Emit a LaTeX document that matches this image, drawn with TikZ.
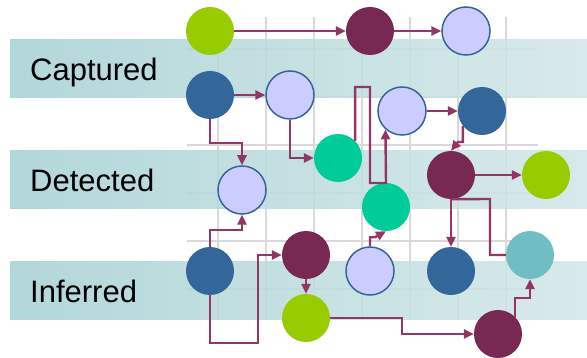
\documentclass[tikz,border=0pt]{standalone}
\usepackage{fontspec}
\setmainfont{Liberation Sans}
\usetikzlibrary{calc}
\usetikzlibrary{arrows.meta}

\definecolor{lime}{HTML}{99CC00}
\definecolor{navy}{HTML}{336699}
\definecolor{lilac}{HTML}{CCCCFF}
\definecolor{plum}{HTML}{772953}
\definecolor{mint}{HTML}{00CC99}
\definecolor{aqua}{HTML}{70BEC4}
\definecolor{wire}{HTML}{953565}
\definecolor{bandL}{HTML}{A8D2D4}
\definecolor{bandR}{HTML}{D3E6E8}

\begin{document}
\begin{tikzpicture} [x=1pt, y=-1pt,
  dot/.style={circle, minimum size=48pt, inner sep=0pt},
  link/.style={wire, line width=2.4pt, -{Triangle[length=10pt,width=9pt]}},
  band/.style={left color=bandL, right color=bandR, fill opacity=.88}]
\useasboundingbox (0,0) rectangle (587,358);

% grid
\foreach \x in {218,266,...,506}
\draw[black!15, line width=1.5pt] (\x,17) -- (\x,320);
\foreach \y in {49,97,...,289}
\draw[black!15, line width=1.5pt] (187,\y) -- (538,\y);

% bands
\foreach \y/\txt in {40/Captured, 151/Detected, 262/Inferred}
{
\shade[band] (10,\y) rectangle (587,\y+58);
\node[anchor=base west, font=\fontsize{31}{36}\selectfont, inner sep=0pt] at (30,\y+41) {\txt};
}

% nodes
\node[dot, fill=lime] (g1) at (210,31) {};
\node[dot, fill=navy] (b2) at (210,95) {};
\node[dot, fill=lilac, draw=navy, line width=1.5pt] (l3) at (290,95) {};
\node[dot, fill=plum] (p4) at (370,31) {};
\node[dot, fill=lilac, draw=navy, line width=1.5pt] (l5) at (466,31) {};
\node[dot, fill=lilac, draw=navy, line width=1.5pt] (l6) at (402,111) {};
\node[dot, fill=navy] (b7) at (482,111) {};
\node[dot, fill=mint] (t8) at (338,158) {};
\node[dot, fill=lilac, draw=navy, line width=1.5pt] (l9) at (242,190) {};
\node[dot, fill=plum] (p10) at (451,175) {};
\node[dot, fill=lime] (g11) at (546,175) {};
\node[dot, fill=mint] (t12) at (386,207) {};
\node[dot, fill=navy] (b13) at (210,271) {};
\node[dot, fill=plum] (p14) at (306,255) {};
\node[dot, fill=lilac, draw=navy, line width=1.5pt] (l15) at (370,271) {};
\node[dot, fill=navy] (b16) at (451,271) {};
\node[dot, fill=aqua] (c17) at (530,255) {};
\node[dot, fill=lime] (g18) at (306,318) {};
\node[dot, fill=plum] (p19) at (498,334) {};

% links
\draw[link] (g1) -- (p4);
\draw[link] (p4) -- (l5);
\draw[link] (b2) -- (l3);
\draw[link] (b2.south) -- ++(0,24) -| (l9.north);
\draw[link] (l3.south) |- (t8.west);
\draw[link] (t8.45) |- (370,87) -- (370,183) -- (386,183) -- (l6.228);
\draw[link] (l6) -- (b7);
\draw[link] (b7.218) |- (458,142) -- (p10.north);
\draw[link] (p10) -- (g11);
\draw[link] (p10.south) -- (b16.north);
\draw[wire, line width=2.4pt] (p10.south) -- (490,199) |- (c17.west);
\draw[link] (b13.north) -- ++(0,-17) -| (l9.south);
\draw[link] (b13.south) -- ++(0,48) -- ++(48,0) |- (p14.west);
\draw[link] (p14.south) -- (g18.north);
\draw[link] (l15.north) -- ++(0,-9) -- ++(5,0) -- (t12.south);
\draw[link] (g18.east) -- ++(72,0) |- (p19.west);
\draw[link] (p19.45) -- ++(0,-19) -| (c17.south);

\end{tikzpicture}
\end{document}
